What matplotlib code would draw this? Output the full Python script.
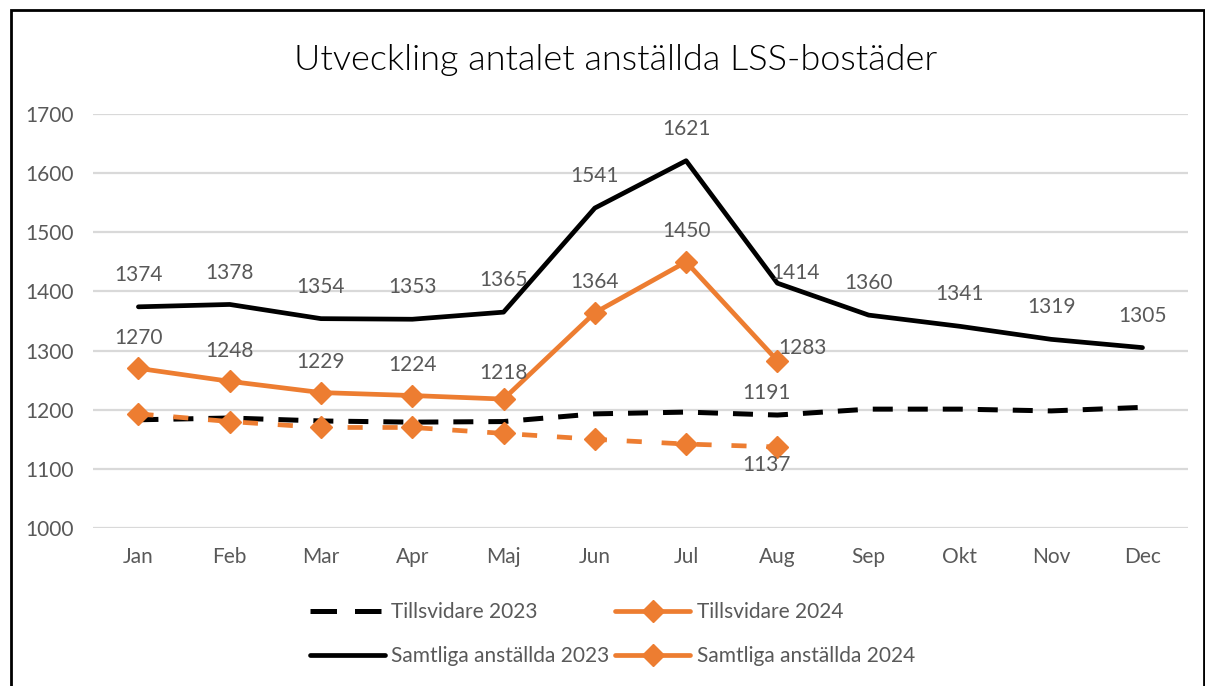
import matplotlib
matplotlib.use("Agg")
import matplotlib.pyplot as plt
from matplotlib.patches import Rectangle
from matplotlib.lines import Line2D

months = ["Jan", "Feb", "Mar", "Apr", "Maj", "Jun", "Jul", "Aug", "Sep", "Okt", "Nov", "Dec"]

tillsvidare_2023 = [1183, 1186, 1181, 1179, 1180, 1193, 1196, 1191, 1201, 1201, 1198, 1204]
tillsvidare_2024 = [1193, 1180, 1170, 1170, 1160, 1150, 1142, 1137]
samtliga_2023 = [1374, 1378, 1354, 1353, 1365, 1541, 1621, 1414, 1360, 1341, 1319, 1305]
samtliga_2024 = [1270, 1248, 1229, 1224, 1218, 1364, 1450, 1283]

yticks = [1000, 1100, 1200, 1300, 1400, 1500, 1600, 1700]

ORANGE = "#ED7D31"
GREY = "#595959"
plt.rcParams["font.family"] = ["Lato", "DejaVu Sans"]

fig = plt.figure(figsize=(12.05, 6.86), dpi=100)
ax = fig.add_axes([0.077, 0.2303, 0.909, 0.6035])

x = list(range(len(months)))

ax.plot(x, tillsvidare_2023, color="black", lw=3.6, dashes=(4, 3),
        solid_capstyle="butt", zorder=3)
ax.plot(x[:len(tillsvidare_2024)], tillsvidare_2024, color=ORANGE, lw=3.4,
        dashes=(3.2, 4.2), marker="D", markersize=11, zorder=4)
l3, = ax.plot(x, samtliga_2023, color="black", lw=3.4, label="Samtliga anställda 2023",
              solid_capstyle="round", zorder=3)
l4, = ax.plot(x[:len(samtliga_2024)], samtliga_2024, color=ORANGE, lw=3.4, marker="D",
              markersize=11, label="Samtliga anställda 2024", solid_capstyle="round", zorder=4)

# legend proxies for the dashed series (so the short handle shows like the original)
l1 = Line2D([], [], color="black", lw=3.6, dashes=(5.3, 3.6), label="Tillsvidare 2023")
l2 = Line2D([], [], color=ORANGE, lw=3.4, marker="D", markersize=11,
            solid_capstyle="round", label="Tillsvidare 2024")

# data labels
lab = dict(ha="center", va="center", fontsize=15, color=GREY, textcoords="offset points", zorder=5)
for i, v in enumerate(samtliga_2023):
    off = (0, 23)
    if i == 7:
        off = (13, 7)
    ax.annotate(str(v), (i, v), xytext=off, **lab)
for i, v in enumerate(samtliga_2024):
    off = (0, 22)
    if i == 4:
        off = (0, 19)
    if i == 7:
        off = (18, 9)
    ax.annotate(str(v), (i, v), xytext=off, **lab)
ax.annotate(str(tillsvidare_2023[7]), (7, tillsvidare_2023[7]), xytext=(-8, 16), **lab)
ax.annotate(str(tillsvidare_2024[7]), (7, tillsvidare_2024[7]), xytext=(-8, -13), **lab)

ax.set_xlim(-0.5, len(months) - 0.5)
ax.set_ylim(1000, 1700)
ax.set_yticks(yticks)
ax.set_xticks(x)
ax.set_xticklabels(months)
ax.grid(axis="y", color="#D9D9D9", lw=1.6)
ax.set_axisbelow(True)
for s in ax.spines.values():
    s.set_visible(False)
ax.tick_params(axis="both", length=0, labelsize=15, labelcolor=GREY)
ax.tick_params(axis="y", pad=14)
ax.tick_params(axis="x", pad=14)

fig.text(0.511, 0.912, "Utveckling antalet anställda LSS-bostäder", ha="center", va="center",
         fontsize=26, color="black", fontweight=300)

leg = fig.legend(handles=[l1, l3, l2, l4], loc="center", bbox_to_anchor=(0.508, 0.076), ncol=2,
                 frameon=False, fontsize=15, handlelength=3.6, handletextpad=0.3,
                 columnspacing=0.3, labelspacing=1.15, labelcolor=GREY)

fig.patches.append(Rectangle((0.009, -0.02), 0.99, 1.005, transform=fig.transFigure,
                             fill=False, edgecolor="black", lw=2, zorder=10))

fig.savefig("out.png", dpi=100)
